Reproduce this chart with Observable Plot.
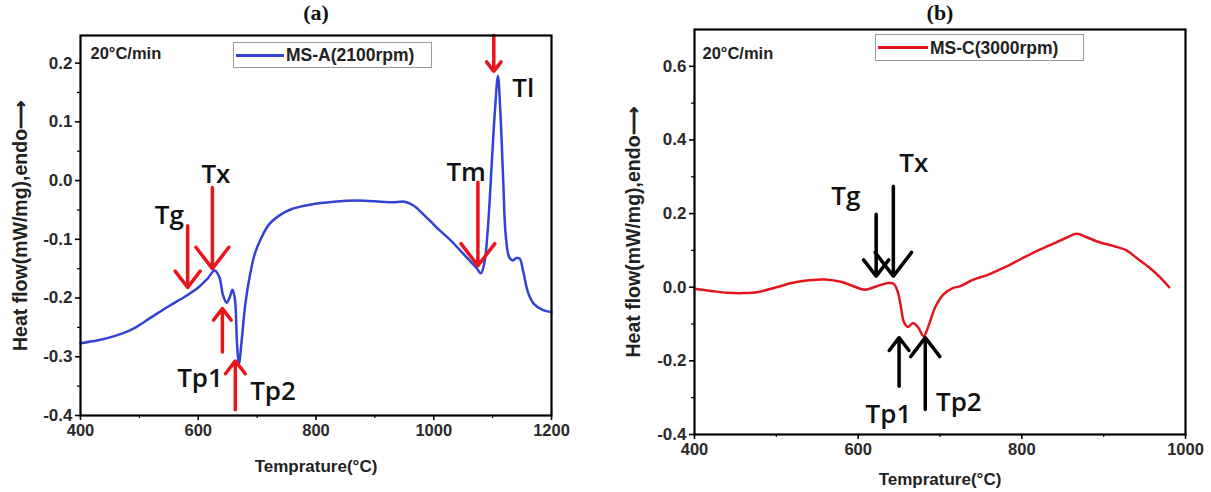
<!DOCTYPE html>
<html>
<head>
<meta charset="utf-8">
<script src="https://cdn.jsdelivr.net/npm/d3@7"></script>
<script src="https://cdn.jsdelivr.net/npm/@observablehq/plot@0.6"></script>
<style>
  html, body { margin: 0; padding: 0; background: #fff; }
  #wrap { position: relative; width: 1211px; height: 492px; display: flex; }
  .legend { position: absolute; border: 1px solid #9a9a9a; background: #fff; box-sizing: border-box;
            font: bold 17.5px "Liberation Sans", Arial, sans-serif; color: #222; }
  .legend .swatch { position: absolute; left: 2px; top: 50%; height: 3px; margin-top: -1.5px; }
  .legend .lab { position: absolute; top: 50%; transform: translateY(-50%); white-space: nowrap; }
</style>
</head>
<body>
<div id="wrap"></div>
<script>
// ---------- Panel (a) data ----------
const tempA = [400,430,460,490,520,550,580,600,615,628,636,642,648,653,658,662,666,669,674,680,688,696,706,720,740,760,790,830,870,910,930,950,965,985,1005,1030,1055,1072,1080,1086,1092,1098,1104,1109,1113,1118,1122,1128,1134,1140,1146,1152,1160,1170,1185,1200];
const flowA = [-0.277,-0.272,-0.264,-0.252,-0.233,-0.214,-0.196,-0.182,-0.168,-0.153,-0.165,-0.195,-0.208,-0.200,-0.186,-0.200,-0.280,-0.313,-0.270,-0.210,-0.160,-0.125,-0.100,-0.075,-0.058,-0.048,-0.041,-0.036,-0.034,-0.036,-0.037,-0.036,-0.042,-0.060,-0.080,-0.103,-0.130,-0.148,-0.158,-0.140,-0.080,0.020,0.120,0.178,0.120,0.000,-0.090,-0.130,-0.136,-0.132,-0.133,-0.155,-0.190,-0.210,-0.220,-0.224];
const seriesA = "MS-A(2100rpm)";
const colorA = "#3242d4";
const xTicksA = [400,600,800,1000,1200];
const xMinorA = [500,700,900,1100];
const yTicksA = [-0.4,-0.3,-0.2,-0.1,0.0,0.1,0.2];
const yMinorA = [-0.35,-0.25,-0.15,-0.05,0.05,0.15];
const arrowNameA = ["Tg","Tx","Tp1","Tp2","Tm","Tl"];
const arrowTA    = [582, 624, 641, 663, 1075, 1102];
const arrowFromA = [-0.077,-0.012,-0.292,-0.39,-0.003,0.247];
const arrowToA   = [-0.182,-0.150,-0.218,-0.307,-0.145,0.186];
const labelTextA = ["Tg","Tx","Tp1","Tp2","Tm","Tl"];
const labelTA    = [551, 630, 603, 727, 1055, 1152];
const labelVA    = [-0.060,0.010,-0.338,-0.360,0.014,0.157];

// ---------- Panel (b) data ----------
const tempB = [400,420,440,460,480,500,520,540,560,580,595,608,622,635,643,648,652,656,661,667,673,680,686,694,704,715,725,740,760,780,800,820,840,855,867,880,895,912,928,940,955,970,980];
const flowB = [-0.004,-0.010,-0.015,-0.016,-0.012,0.000,0.012,0.019,0.021,0.014,0.002,-0.007,0.002,0.011,0.010,-0.010,-0.050,-0.095,-0.108,-0.097,-0.108,-0.133,-0.105,-0.055,-0.020,-0.003,0.003,0.020,0.035,0.055,0.078,0.100,0.120,0.135,0.145,0.135,0.122,0.112,0.100,0.080,0.055,0.025,0.000];
const seriesB = "MS-C(3000rpm)";
const colorB = "#e3141c";
const xTicksB = [400,600,800,1000];
const xMinorB = [500,700,900];
const yTicksB = [-0.4,-0.2,0.0,0.2,0.4,0.6];
const yMinorB = [-0.3,-0.1,0.1,0.3,0.5];
const arrowNameB = ["Tg","Tx","Tp1","Tp2"];
const arrowTB    = [622, 643, 650, 682];
const arrowFromB = [0.198, 0.274, -0.269, -0.332];
const arrowToB   = [0.030, 0.030, -0.137, -0.137];
const labelTextB = ["Tg","Tx","Tp1","Tp2"];
const labelTB    = [585, 668, 637, 723];
const labelVB    = [0.246, 0.336, -0.345, -0.313];

const rate = "20°C/min";
const yLabel = "Heat flow(mW/mg),endo\u27F6";
const xLabel = "Temprature(°C)";

const fmt = d => d.toFixed(1);

function panel(o) {
  const data = o.temp.map((t, i) => ({t, v: o.flow[i]}));
  const arrows = o.arrowT.map((t, i) => ({name: o.arrowName[i], t, from: o.arrowFrom[i], to: o.arrowTo[i]}));
  const labels = o.labelT.map((t, i) => ({s: o.labelText[i], t, v: o.labelV[i]}));
  return Plot.plot({
    width: o.width, height: 492,
    marginLeft: o.ml, marginRight: o.mr, marginTop: o.mt, marginBottom: o.mb,
    style: {fontFamily: "'Liberation Sans', Arial, sans-serif", fontSize: "17px", fontWeight: "bold", color: "#2a2a2a", background: "transparent"},
    x: {domain: o.xDomain},
    y: {domain: o.yDomain},
    marks: [
      Plot.axisX({ticks: o.xTicks, tickSize: 5, tickPadding: 4, tickFormat: d => String(d), label: null, stroke: "#000", strokeWidth: 1.6, fontSize: 16.5}),
      Plot.axisX(o.xMinor, {tickSize: 3, tickFormat: () => "", label: null, stroke: "#000", strokeWidth: 1.2}),
      Plot.axisY({ticks: o.yTicks, tickSize: 5, tickPadding: 3, tickFormat: fmt, label: null, stroke: "#000", strokeWidth: 1.6, fontSize: 17}),
      Plot.axisY(o.yMinor, {tickSize: 3, tickFormat: () => "", label: null, stroke: "#000", strokeWidth: 1.2}),
      Plot.text([xLabel], {frameAnchor: "bottom", dy: o.xlo, lineAnchor: "middle", textAnchor: "middle", fontSize: 17, fontWeight: "bold", fill: "#222"}),
      Plot.text([yLabel], {frameAnchor: "left", dx: -o.ylo, rotate: -90, lineAnchor: "middle", textAnchor: "middle", fontSize: 19.5, fontWeight: "bold", fill: "#222"}),
      Plot.line(data, {x: "t", y: "v", stroke: o.color, strokeWidth: 2.5, curve: "catmull-rom"}),
      Plot.arrow(arrows, {x1: "t", y1: "from", x2: "t", y2: "to", stroke: o.arrowColor, strokeWidth: 3.5, headLength: 13, headAngle: 75}),
      Plot.text(labels, {x: "t", y: "v", text: "s", fontSize: 26, fontWeight: 600, fontFamily: "Open Sans", fill: "#111"}),
      Plot.text([rate], {frameAnchor: "top-left", dx: o.rdx, dy: o.rdy, lineAnchor: "middle", textAnchor: "start", fontSize: 16.5, fontWeight: "bold", fill: "#222"}),
      Plot.text([o.title], {frameAnchor: "top", dy: o.tdy, lineAnchor: "middle", fontSize: 22, fontWeight: "bold", fontFamily: "Liberation Serif", fill: "#111"}),
      Plot.frame({stroke: "#000", strokeWidth: 2.2})
    ]
  });
}

const wrap = document.getElementById("wrap");
wrap.appendChild(panel({
  temp: tempA, flow: flowA, color: colorA, arrowColor: "#e8161b",
  xTicks: xTicksA, xMinor: xMinorA, yTicks: yTicksA, yMinor: yMinorA,
  arrowName: arrowNameA, arrowT: arrowTA, arrowFrom: arrowFromA, arrowTo: arrowToA,
  labelText: labelTextA, labelT: labelTA, labelV: labelVA,
  xDomain: [400, 1200], yDomain: [-0.4, 0.247],
  width: 605, ml: 80, mr: 54, mt: 35, mb: 77, xlo: 51, ylo: 60, rdx: 10, rdy: 18, tdy: -23, title: "(a)"
}));
wrap.appendChild(panel({
  temp: tempB, flow: flowB, color: colorB, arrowColor: "#000",
  xTicks: xTicksB, xMinor: xMinorB, yTicks: yTicksB, yMinor: yMinorB,
  arrowName: arrowNameB, arrowT: arrowTB, arrowFrom: arrowFromB, arrowTo: arrowToB,
  labelText: labelTextB, labelT: labelTB, labelV: labelVB,
  xDomain: [400, 1000], yDomain: [-0.4, 0.7],
  width: 606, ml: 89, mr: 26, mt: 29, mb: 58, xlo: 45, ylo: 61, rdx: 8, rdy: 24, tdy: -17, title: "(b)"
}));

function legend(left, top, w, h, color, name, swatchW) {
  const d = document.createElement("div");
  d.className = "legend";
  Object.assign(d.style, {left: left + "px", top: top + "px", width: w + "px", height: h + "px"});
  const s = document.createElement("div");
  s.className = "swatch";
  Object.assign(s.style, {width: swatchW + "px", background: color});
  const l = document.createElement("div");
  l.className = "lab";
  l.style.left = (swatchW + 4) + "px";
  l.textContent = name;
  d.appendChild(s); d.appendChild(l);
  wrap.appendChild(d);
}
legend(233, 42, 199, 26, colorA, seriesA, 48);
legend(875, 34, 209, 27, colorB, seriesB, 50);
</script>
</body>
</html>
